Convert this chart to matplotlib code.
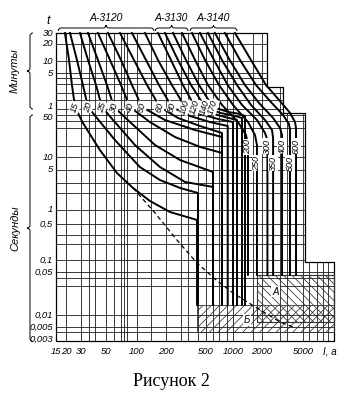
import numpy as np
import matplotlib
matplotlib.use("Agg")
import matplotlib.pyplot as plt
from matplotlib.path import Path
from matplotlib.patches import PathPatch

plt.rcParams['hatch.linewidth'] = 0.55
NARROW = ['Liberation Sans Narrow', 'Liberation Sans', 'DejaVu Sans']

# ---- curves: current I (A) against time t (s) ----
I_15 = [19.4, 21.7, 23.5, 25.5, 31.2, 44.1, 63.9, 91.4, 136, 219, 407]
t_15 = [1800, 625, 175, 65.6, 36.8, 13.1, 4.43, 2.43, 1.44, 0.906, 0.61]
I_20 = [22.3, 26.9, 31.2, 34.6, 41.5, 61.0, 107, 173, 276, 416]
t_20 = [1800, 625, 175, 65.6, 44.6, 19.2, 5.87, 3.34, 2.43, 1.98]
I_25 = [29.2, 34.6, 40.8, 46.0, 58.5, 95.6, 173, 309, 598]
t_25 = [1800, 625, 175, 65.6, 41.3, 15.8, 5.87, 3.09, 2.53]
I_30 = [34.6, 42.4, 51.1, 59.8, 85.5, 154, 276, 598]
t_30 = [1800, 625, 175, 65.6, 38.2, 15.8, 8.5, 4.62]
I_40 = [42.4, 54.7, 69.9, 85.5, 136, 246, 436, 753]
t_40 = [1800, 625, 175, 65.6, 38.2, 21.5, 14.7, 11.7]
I_50 = [52.3, 69.9, 89.4, 112.7, 195, 389, 753]
t_50 = [1800, 625, 175, 65.6, 41.3, 28.1, 21.5]
I_60 = [68.4, 93.5, 127, 173, 263, 436, 753]
t_60 = [1800, 625, 175, 65.6, 44.6, 32.8, 25.1]
I_80 = [89.4, 124, 169, 229, 347, 553, 873]
t_80 = [1800, 625, 175, 65.6, 48.1, 38.2, 32.8]
I_100 = [121, 165, 229, 309, 436, 681, 1000]
t_100 = [1800, 625, 175, 65.6, 51.6, 42.9, 38.2]
I_120 = [165, 224, 295, 389, 553, 812, 1100]
t_120 = [1800, 625, 175, 65.6, 53.4, 46.3, 41.3]
I_140 = [195, 263, 355, 489, 716, 1049, 1240]
t_140 = [1800, 625, 175, 65.6, 53.4, 48.1, 44.6]
I_170 = [235, 316, 426, 598, 873, 1182, 1332]
t_170 = [1800, 625, 175, 65.6, 55, 51.6, 48.1]
I_200 = [289, 389, 526, 753, 1127, 1365, 1431]
t_200 = [1800, 625, 175, 72, 38.2, 23.2, 15.8]
I_250 = [363, 489, 698, 1000, 1431, 1692, 1773]
t_250 = [1800, 625, 175, 72, 38.2, 23.2, 15.8]
I_300 = [436, 614, 873, 1240, 1773, 2139, 2257]
t_300 = [1800, 625, 175, 72, 41.3, 25.1, 19.2]
I_350 = [526, 753, 1100, 1537, 2139, 2502, 2563]
t_350 = [1800, 625, 175, 72, 41.3, 28.1, 20.7]
I_400 = [629, 918, 1332, 1862, 2563, 2989, 3130]
t_400 = [1800, 625, 175, 78.4, 44.6, 30.4, 23.2]
I_500 = [812, 1182, 1733, 2391, 3200, 3655, 3738]
t_500 = [1800, 625, 175, 85.8, 50, 35.4, 28.1]
I_600 = [1049, 1537, 2187, 2925, 3738, 4180, 4277]
t_600 = [1800, 625, 175, 90, 53.4, 38.2, 30.4]

labels_top = ['15', '20', '25', '30', '40', '50', '60', '80', '100', '120', '140', '170']
labels_right = ['200', '250', '300', '350', '400', '500', '600']
label_right_t = [14.7, 7.26, 15.2, 7.26, 15.2, 7.26, 15.2]

# lower envelope (dashed)
I_dash = [91.4, 154, 257, 407, 629, 1000, 1773, 2989, 4000]
t_dash = [2.43, 0.862, 0.244, 0.084, 0.0385, 0.0228, 0.013, 0.0067, 0.005]

# instantaneous trip lines end at these times
t_drop_3120 = 0.0146
t_drop_3140 = 0.045

# zones A and Б
zone_A_I = [1773, 10450]
zone_A_t = [0.0067, 0.0447]
zone_B_I = [407, 10450]
zone_B_t = [0.004, 0.0146]

# grid of the sheet
grid_I = [20, 30, 35, 40, 50, 60, 70, 75, 80, 100, 140, 200, 280, 330, 420, 500,
          600, 700, 850, 1000, 1600, 2000, 3000, 3500, 5000, 5800, 7000, 8000, 9000]
grid_t = [1200, 600, 300, 240, 180, 120, 90, 60, 50, 40, 30, 15, 10, 5, 3, 2, 1,
          0.5, 0.3, 0.2, 0.1, 0.05, 0.04, 0.03, 0.01, 0.005, 0.004]
# stepped outline of the sheet
frame_I = [15, 2257, 3200, 5230, 10450]
frame_t = [1800, 160, 53.5, 0.089, 0.0027]

min_ticks = [1800, 1200, 600, 300, 60]
min_labels = ['30', '20', '10', '5', '1']
sec_ticks = [50, 10, 5, 1, 0.5, 0.1, 0.05, 0.01, 0.005, 0.003]
sec_labels = ['50', '10', '5', '1', '0,5', '0,1', '0,05', '0,01', '0,005', '0,003']
x_ticks = [15, 20, 30, 50, 100, 200, 500, 1000, 2000, 5000]
x_labels = ['15', '20', '30', '50', '100', '200', '500', '1000', '2000', '5000']

# ---- scale calibration (the printed scale is not a clean log scale) ----
W, H = 343, 400
X_VALS = [1, 15, 20, 30, 50, 100, 200, 500, 1000, 2000, 5000, 1e6]
X_PIX = [-57, 56, 66, 81, 106, 137, 166, 206, 233, 262, 303, 526]
Y_VALS = [1e-5, 0.003, 0.005, 0.01, 0.05, 0.1, 0.5, 1, 5, 10, 50, 60, 300, 600, 1200, 1800, 1e6]
Y_PIX = [468, 339, 327, 315, 272, 260, 224, 210, 170, 157, 115, 109, 73, 61, 44, 33, -110]
LX, LY = np.log10(X_VALS), np.log10(Y_VALS)


def fx(v):
    return np.interp(np.log10(np.clip(np.asarray(v, float), 1e-12, None)), LX, X_PIX)


def fx_inv(p):
    return 10 ** np.interp(p, X_PIX, LX)


def fy(v):
    return H - np.interp(np.log10(np.clip(np.asarray(v, float), 1e-12, None)), LY, Y_PIX)


def fy_inv(p):
    return 10 ** np.interp(H - np.asarray(p, float), Y_PIX[::-1], LY[::-1])


fig = plt.figure(figsize=(W / 100, H / 100), dpi=100)
ax = fig.add_axes([0, 0, 1, 1])
ax.set_xscale('function', functions=(fx, fx_inv))
ax.set_yscale('function', functions=(fy, fy_inv))
ax.axis('off')


def right_edge(t):
    for k in range(1, 4):
        if t > frame_t[k]:
            return frame_I[k]
    return frame_I[4]


def top_edge(i):
    for k in range(1, 4):
        if i <= frame_I[k]:
            return frame_t[k - 1]
    return frame_t[3]


gkw = dict(color='#1a1a1a', lw=0.6, zorder=1)
for i in grid_I:
    ax.plot([i, i], [frame_t[-1], top_edge(i)], **gkw)
for t in grid_t:
    ax.plot([frame_I[0], right_edge(t)], [t, t], **gkw)

# outline
ox = [frame_I[0], frame_I[1], frame_I[1], frame_I[2], frame_I[2], frame_I[3], frame_I[3],
      frame_I[4], frame_I[4], frame_I[0], frame_I[0]]
oy = [frame_t[0], frame_t[0], frame_t[1], frame_t[1], frame_t[2], frame_t[2], frame_t[3],
      frame_t[3], frame_t[4], frame_t[4], frame_t[0]]
ax.plot(ox, oy, color='black', lw=0.9, zorder=2)

# zones
ax.fill([zone_B_I[0], zone_B_I[1], zone_B_I[1], zone_B_I[0]],
        [zone_B_t[0], zone_B_t[0], zone_B_t[1], zone_B_t[1]],
        fill=False, hatch='////', edgecolor='#333333', lw=0.6, zorder=2)
ax.fill([zone_A_I[0], zone_A_I[1], zone_A_I[1], zone_A_I[0]],
        [zone_A_t[0], zone_A_t[0], zone_A_t[1], zone_A_t[1]],
        fill=False, hatch='\\\\\\\\', edgecolor='#333333', lw=0.8, zorder=2)
ax.text(2700, 0.024, 'А', fontsize=7, style='italic', family=NARROW, ha='center', va='center',
        bbox=dict(fc='white', ec='none', pad=0.6), zorder=6)
ax.text(1400, 0.0075, 'Б', fontsize=7, style='italic', family=NARROW, ha='center', va='center',
        bbox=dict(fc='white', ec='none', pad=0.6), zorder=6)

curves_I = [I_15, I_20, I_25, I_30, I_40, I_50, I_60, I_80, I_100, I_120, I_140, I_170,
            I_200, I_250, I_300, I_350, I_400, I_500, I_600]
curves_t = [t_15, t_20, t_25, t_30, t_40, t_50, t_60, t_80, t_100, t_120, t_140, t_170,
            t_200, t_250, t_300, t_350, t_400, t_500, t_600]
ckw = dict(color='black', lw=1.4, zorder=4, solid_joinstyle='round')
for k, (ci, ct) in enumerate(zip(curves_I, curves_t)):
    end_t = t_drop_3120 if k < 12 else t_drop_3140
    ax.plot(ci + [ci[-1]], ct + [end_t], **ckw)
ax.plot(I_dash, t_dash, color='black', lw=0.9, ls=(0, (3.5, 2.5)), zorder=4)

for k, lab in enumerate(labels_top):
    ax.text(curves_I[k][3], curves_t[k][3], lab, rotation=72, fontsize=6.5, style='italic',
            family=NARROW, ha='center', va='center',
            bbox=dict(fc='white', ec='none', pad=0.3), zorder=6)
for k, lab in enumerate(labels_right):
    ax.text(curves_I[12 + k][-1], label_right_t[k], lab, rotation=90, fontsize=6.5,
            style='italic', family=NARROW, ha='center', va='center',
            bbox=dict(fc='white', ec='none', pad=0.3), zorder=6)

# tick labels ("1" min and "50" s sit very close, pull them apart a little)
ytr = ax.get_yaxis_transform()
xtr = ax.get_xaxis_transform()
tick_vals = min_ticks + sec_ticks
tick_text = min_labels + sec_labels
for k, (v, s) in enumerate(zip(tick_vals, tick_text)):
    dy = 1.8 if k == 4 else (-1.8 if k == 5 else 0)
    ax.annotate(s, xy=(53 / W, v), xycoords=ytr, xytext=(0, dy), textcoords='offset points',
                ha='right', va='center', fontsize=6.8, style='italic', family=NARROW)
for v, s in zip(x_ticks, x_labels):
    ax.text(v, 1 - 352 / H, s, transform=xtr, ha='center', va='center', fontsize=6.8,
            style='italic', family=NARROW)
ax.text(330 / W, 1 - 352 / H, 'I, a', transform=ax.transAxes, ha='center', va='center',
        fontsize=7, style='italic', family=NARROW)
ax.text(48 / W, 1 - 21 / H, 't', transform=ax.transAxes, ha='center', va='center',
        fontsize=9, style='italic', family=NARROW)

# series names with braces
series = ['А-3120', 'А-3130', 'А-3140']
series_span = [(16, 150), (155, 331), (347, 1100)]
for name, (a, b) in zip(series, series_span):
    xa, xb = float(fx(a)), float(fx(b))
    xm = (xa + xb) / 2
    y = 28
    verts = [(xa, y + 3), (xa, y), (xa + 3, y), (xm - 3, y), (xm, y), (xm, y - 3),
             (xm, y), (xm + 3, y), (xb - 3, y), (xb, y), (xb, y + 3)]
    codes = [Path.MOVETO, Path.CURVE3, Path.CURVE3, Path.LINETO, Path.CURVE3, Path.CURVE3,
             Path.CURVE3, Path.CURVE3, Path.LINETO, Path.CURVE3, Path.CURVE3]
    verts = [(px / W, 1 - py / H) for px, py in verts]
    ax.add_patch(PathPatch(Path(verts, codes), fill=False, lw=0.7, transform=ax.transAxes,
                           clip_on=False))
    ax.text(xm / W, 1 - 18 / H, name, transform=ax.transAxes, ha='center', va='center',
            fontsize=7.5, style='italic', family=NARROW)

# minutes / seconds braces on the left
units = ['Минуты', 'Секунды']
unit_span = [(1800, 60), (50, 0.0027)]
for name, (a, b) in zip(units, unit_span):
    ya, yb = H - float(fy(a)), H - float(fy(b))
    ym = (ya + yb) / 2
    x = 30
    verts = [(x + 3, ya), (x, ya), (x, ya + 3), (x, ym - 3), (x, ym), (x - 3, ym),
             (x, ym), (x, ym + 3), (x, yb - 3), (x, yb), (x + 3, yb)]
    codes = [Path.MOVETO, Path.CURVE3, Path.CURVE3, Path.LINETO, Path.CURVE3, Path.CURVE3,
             Path.CURVE3, Path.CURVE3, Path.LINETO, Path.CURVE3, Path.CURVE3]
    verts = [(px / W, 1 - py / H) for px, py in verts]
    ax.add_patch(PathPatch(Path(verts, codes), fill=False, lw=0.7, transform=ax.transAxes,
                           clip_on=False))
    ax.text(15 / W, 1 - ym / H, name, transform=ax.transAxes, rotation=90, ha='center',
            va='center', fontsize=8, style='italic', family=NARROW)

fig.text(171 / W, 1 - 382 / H, 'Рисунок 2', ha='center', va='center', fontsize=13,
         family=['Liberation Serif', 'DejaVu Serif'])

ax.set_xlim(fx_inv(0), fx_inv(W))
ax.set_ylim(fy_inv(0), fy_inv(H))
fig.savefig('out.png', dpi=100, facecolor='white')
